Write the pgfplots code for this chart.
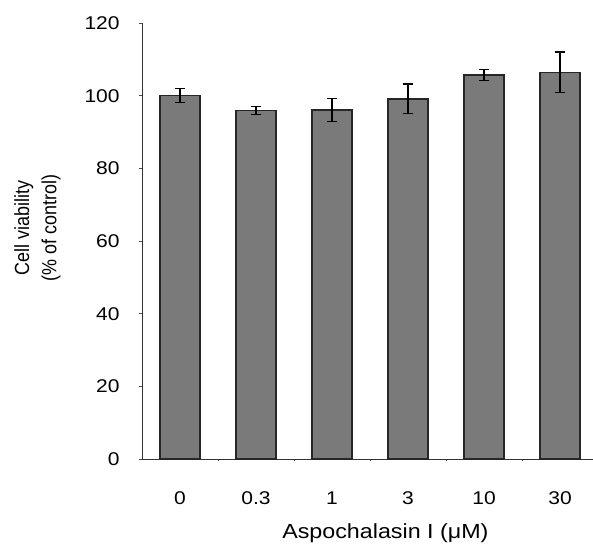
\documentclass[border=0pt]{standalone}
\usepackage{pgfplots}
\pgfplotsset{compat=1.18}
\usepackage{fontspec}
\setmainfont{Liberation Sans}
\begin{document}
\begin{tikzpicture}[x=1bp,y=1bp]
\useasboundingbox (-142,-86) rectangle (451,459);
\begin{axis}[
  at={(0,0)}, anchor=south west,
  scale only axis,
  width=450.7bp, height=436bp,
  xmin=-0.5, xmax=5.43,
  ymin=0, ymax=120,
  axis lines*=left,
  axis line style={line width=0.8bp, black!80},
  ytick={0,20,...,120},
  xtick={0,1,2,3,4,5},
  xticklabels={0,0.3,1,3,10,30},
  major x tick style={draw=none},
  minor xtick={0.5,1.5,2.5,3.5,4.5},
  minor tick length=2bp,
  every tick/.style={black!70, line width=0.6bp},
  major tick length=3bp,
  tick align=outside,
  /pgf/number format/assume math mode=true,
  tick label style={font=\fontsize{18.5}{22}\selectfont, xscale=1.14},
  yticklabel style={xshift=-13.5bp},
  xticklabel style={yshift=-26bp},
  xlabel={Aspochalasin I (μM)},
  xlabel style={at={(axis description cs:0.54,0)}, anchor=north, yshift=-61bp, xscale=1.14, font=\fontsize{20.5}{24}\selectfont},
  ylabel={Cell viability\\(\% of control)},
  ylabel style={at={(axis description cs:-0.232,0.53)}, anchor=center, align=center, yscale=1.14, font=\fontsize{18}{24}\selectfont},
  clip=false,
]
\addplot[ybar, bar width=0.52, fill={rgb,255:red,122;green,122;blue,122}, draw=black!85, line width=1.6bp,
  error bars/.cd, y dir=both, y explicit,
  error bar style={line width=1.2bp, black},
  error mark options={rotate=90, mark size=5.3bp, line width=1.2bp, black}]
coordinates {
 (0,100.0) +- (0,1.9)
 (1,95.9) +- (0,1.1)
 (2,96.1) +- (0,3.2)
 (3,99.1) +- (0,4.1)
 (4,105.7) +- (0,1.6)
 (5,106.4) +- (0,5.6)
};
\end{axis}
\end{tikzpicture}
\end{document}
